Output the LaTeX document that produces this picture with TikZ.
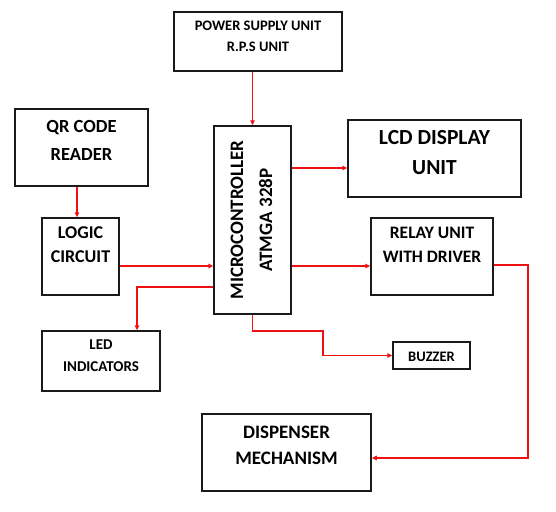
\documentclass[tikz,border=0pt]{standalone}
\usepackage{fontspec}
\setmainfont{Carlito}
\usetikzlibrary{arrows.meta,positioning}
\definecolor{wire}{HTML}{EE1111}
\definecolor{edge}{HTML}{1A1A1A}
\tikzset{
  blockbox/.style={draw=edge, line width=1.5pt, inner sep=0pt},
  blocktext/.style={align=center, inner sep=0pt, text=black},
  arr/.style={-{Triangle[length=5pt,width=4.5pt]}, line width=1.3pt, draw=wire}
}
\newcommand{\blkfont}[2]{\fontsize{#1}{#2}\selectfont\bfseries}

\begin{document}
\begin{tikzpicture}[x=1pt, y=-1pt]
    \useasboundingbox (0,0) rectangle (556,511);
    % blocks
    \node[blockbox, minimum width=168pt, minimum height=59pt] (psu) at (258,41.5) {};
    \node[blockbox, minimum width=133pt, minimum height=77pt] (qr) at (81.5,147.5) {};
    \node[blockbox, minimum width=77pt, minimum height=77pt] (logic) at (80.5,256.5) {};
    \node[blockbox, minimum width=77pt, minimum height=188pt] (mcu) at (252.5,220) {};
    \node[blockbox, minimum width=173pt, minimum height=77pt] (lcd) at (434.5,158.5) {};
    \node[blockbox, minimum width=122pt, minimum height=77pt] (relay) at (432,256.5) {};
    \node[blockbox, minimum width=118pt, minimum height=60pt] (led) at (101,361) {};
    \node[blockbox, minimum width=77pt, minimum height=27pt] (buzzer) at (431.5,355.5) {};
    \node[blockbox, minimum width=169pt, minimum height=77pt] (disp) at (286.5,452.5) {};
    % labels
    \node[blocktext, font=\blkfont{14.5}{21}] (psutext) at (258,36.5) {POWER SUPPLY UNIT\\R.P.S UNIT};
    \node[blocktext, font=\blkfont{18.5}{28}] (qrtext) at (81.5,140) {QR CODE\\READER};
    \node[blocktext, font=\blkfont{18}{24}] (logictext) at (80.5,245) {LOGIC\\CIRCUIT};
    \node[blocktext, font=\blkfont{19}{29}, rotate=90] (mcutext) at (251.5,220) {MICROCONTROLLER\\ATMGA 328P};
    \node[blocktext, font=\blkfont{21.5}{30}] (lcdtext) at (434.5,153) {LCD DISPLAY\\UNIT};
    \node[blocktext, font=\blkfont{17.5}{24}] (relaytext) at (432,245) {RELAY UNIT\\WITH DRIVER};
    \node[blocktext, font=\blkfont{15}{22}] (ledtext) at (101,356) {LED\\INDICATORS};
    \node[blocktext, font=\blkfont{14.5}{22}] (buzzertext) at (431.5,357) {BUZZER};
    \node[blocktext, font=\blkfont{19}{26}] (disptext) at (286.5,445) {DISPENSER\\MECHANISM};
    % bends
    \coordinate (ledbend) at (137,287);
    \coordinate (buzbend) at (323,331);
    \coordinate (relaybend) at (528,265);
    % connectors
    \draw[arr] (mcu.north |- psu.south) -- (mcu.north);
    \draw[arr] ([xshift=-4.5pt]qr.south) -- ([xshift=-4.5pt]qr.south |- logic.north);
    \draw[arr] ([yshift=-9.5pt]logic.east) -- ([yshift=-9.5pt]logic.east -| mcu.west);
    \draw[arr] ([yshift=-9.5pt]lcd.west -| mcu.east) -- ([yshift=-9.5pt]lcd.west);
    \draw[arr] ([yshift=-9.5pt]relay.west -| mcu.east) -- ([yshift=-9.5pt]relay.west);
    \draw[arr] (mcu.west |- ledbend) -- (ledbend) -- (ledbend |- led.north);
    \draw[arr] (mcu.south) -- (mcu.south |- buzbend) -- (buzbend) -- (buzbend |- buzzer.west) -- (buzzer.west);
    \draw[arr] (relay.east |- relaybend) -- (relaybend) -- ([yshift=-5.5pt]relaybend |- disp.east) -- ([yshift=-5.5pt]disp.east);
  \end{tikzpicture}
\end{document}
